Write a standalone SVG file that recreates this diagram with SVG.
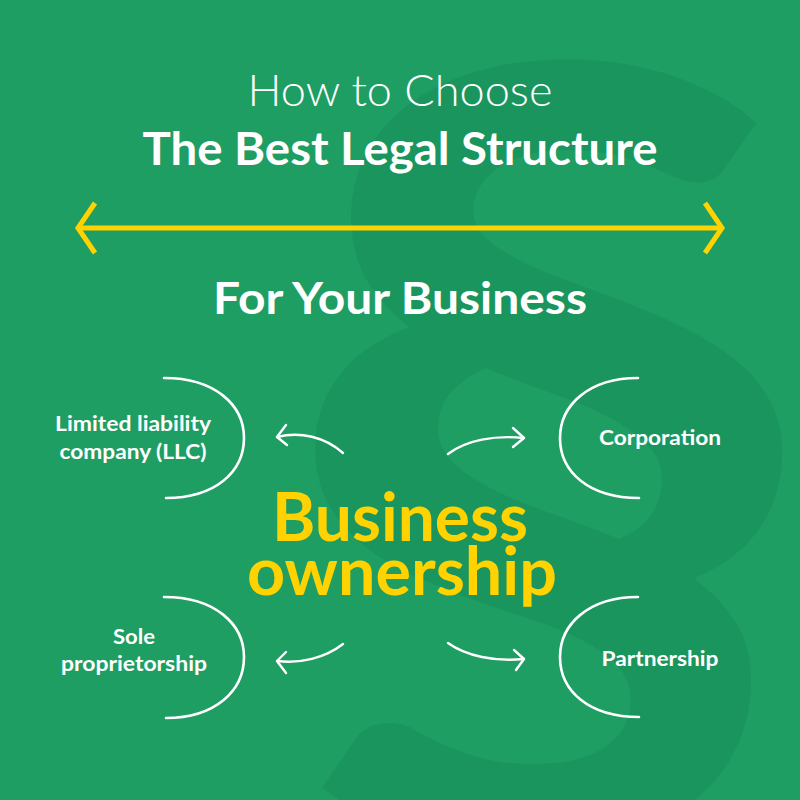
<svg xmlns="http://www.w3.org/2000/svg" width="800" height="800" viewBox="0 0 800 800">
<defs>
<style>
.w{fill:#ffffff;font-family:Lato,"Noto Sans",sans-serif;text-anchor:middle}
.lbl{font-size:21px;font-weight:700}
.br{fill:none;stroke:#ffffff;stroke-width:2.6;stroke-linecap:round}
.cn{fill:none;stroke:#ffffff;stroke-width:2.4;stroke-linecap:round;stroke-linejoin:round}
.y{fill:#ffd200;font-family:Lato,"Noto Sans",sans-serif;font-weight:700;text-anchor:middle}
</style>
</defs>
<rect width="800" height="800" fill="#1e9e63"/>
<text transform="translate(548,790) scale(1.12,1)" x="0" y="0" font-family="Lato,'Noto Sans',sans-serif" font-weight="700" font-size="1000" fill="#1a955e" text-anchor="middle">§</text>
<g id="title">
<text class="w" x="400" y="106" font-size="44" font-weight="300" textLength="305" lengthAdjust="spacingAndGlyphs">How to Choose</text>
<text class="w" x="400" y="165" font-size="45" font-weight="700" textLength="515" lengthAdjust="spacingAndGlyphs">The Best Legal Structure</text>
<text class="w" x="400" y="314" font-size="44" font-weight="700" textLength="374" lengthAdjust="spacingAndGlyphs">For Your Business</text>
</g>
<g id="double-arrow" fill="none" stroke="#ffd200" stroke-width="5">
<line x1="80" y1="228" x2="720" y2="228"/>
<polyline points="95,203 78,228 95,253"/>
<polyline points="705,203 722,228 705,253"/>
</g>
<g id="center">
<text class="y" x="400" y="541" font-size="66" textLength="256" lengthAdjust="spacingAndGlyphs">Business</text>
<text class="y" x="402" y="595" font-size="66" textLength="310" lengthAdjust="spacingAndGlyphs">ownership</text>
</g>
<g id="llc">
<path class="br" d="M164,378 C215,378 244,405 244,438 C244,472 215,498 166,498"/>
<text class="w lbl" x="133" y="431" textLength="156" lengthAdjust="spacingAndGlyphs">Limited liability</text>
<text class="w lbl" x="133" y="459" textLength="147" lengthAdjust="spacingAndGlyphs">company (LLC)</text>
</g>
<g id="corporation">
<path class="br" d="M638,378 C589,378 560,405 560,438 C560,472 589,498 639,498"/>
<text class="w lbl" x="660" y="445" textLength="122" lengthAdjust="spacingAndGlyphs">Corporation</text>
</g>
<g id="sole">
<path class="br" d="M164,597 C215,597 244,624 244,657 C244,691 215,718 166,718"/>
<text class="w lbl" x="134" y="644" textLength="42" lengthAdjust="spacingAndGlyphs">Sole</text>
<text class="w lbl" x="134" y="671" textLength="146" lengthAdjust="spacingAndGlyphs">proprietorship</text>
</g>
<g id="partnership">
<path class="br" d="M638,597 C589,597 560,624 560,657 C560,691 589,717 639,717"/>
<text class="w lbl" x="660" y="666" textLength="117" lengthAdjust="spacingAndGlyphs">Partnership</text>
</g>
<g id="connectors">
<path class="cn" d="M343,453 C325,437 300,431 277,437"/>
<polyline class="cn" points="286,425 277,437 287,445"/>
<path class="cn" d="M448,454 C466,440 495,435 524,438"/>
<polyline class="cn" points="513,428 524,438 513,447"/>
<path class="cn" d="M343,644 C325,658 300,664 277,661"/>
<polyline class="cn" points="286,652 277,661 286,673"/>
<path class="cn" d="M448,643 C466,656 495,662 524,659"/>
<polyline class="cn" points="514,650 524,659 516,670"/>
</g>
</svg>
